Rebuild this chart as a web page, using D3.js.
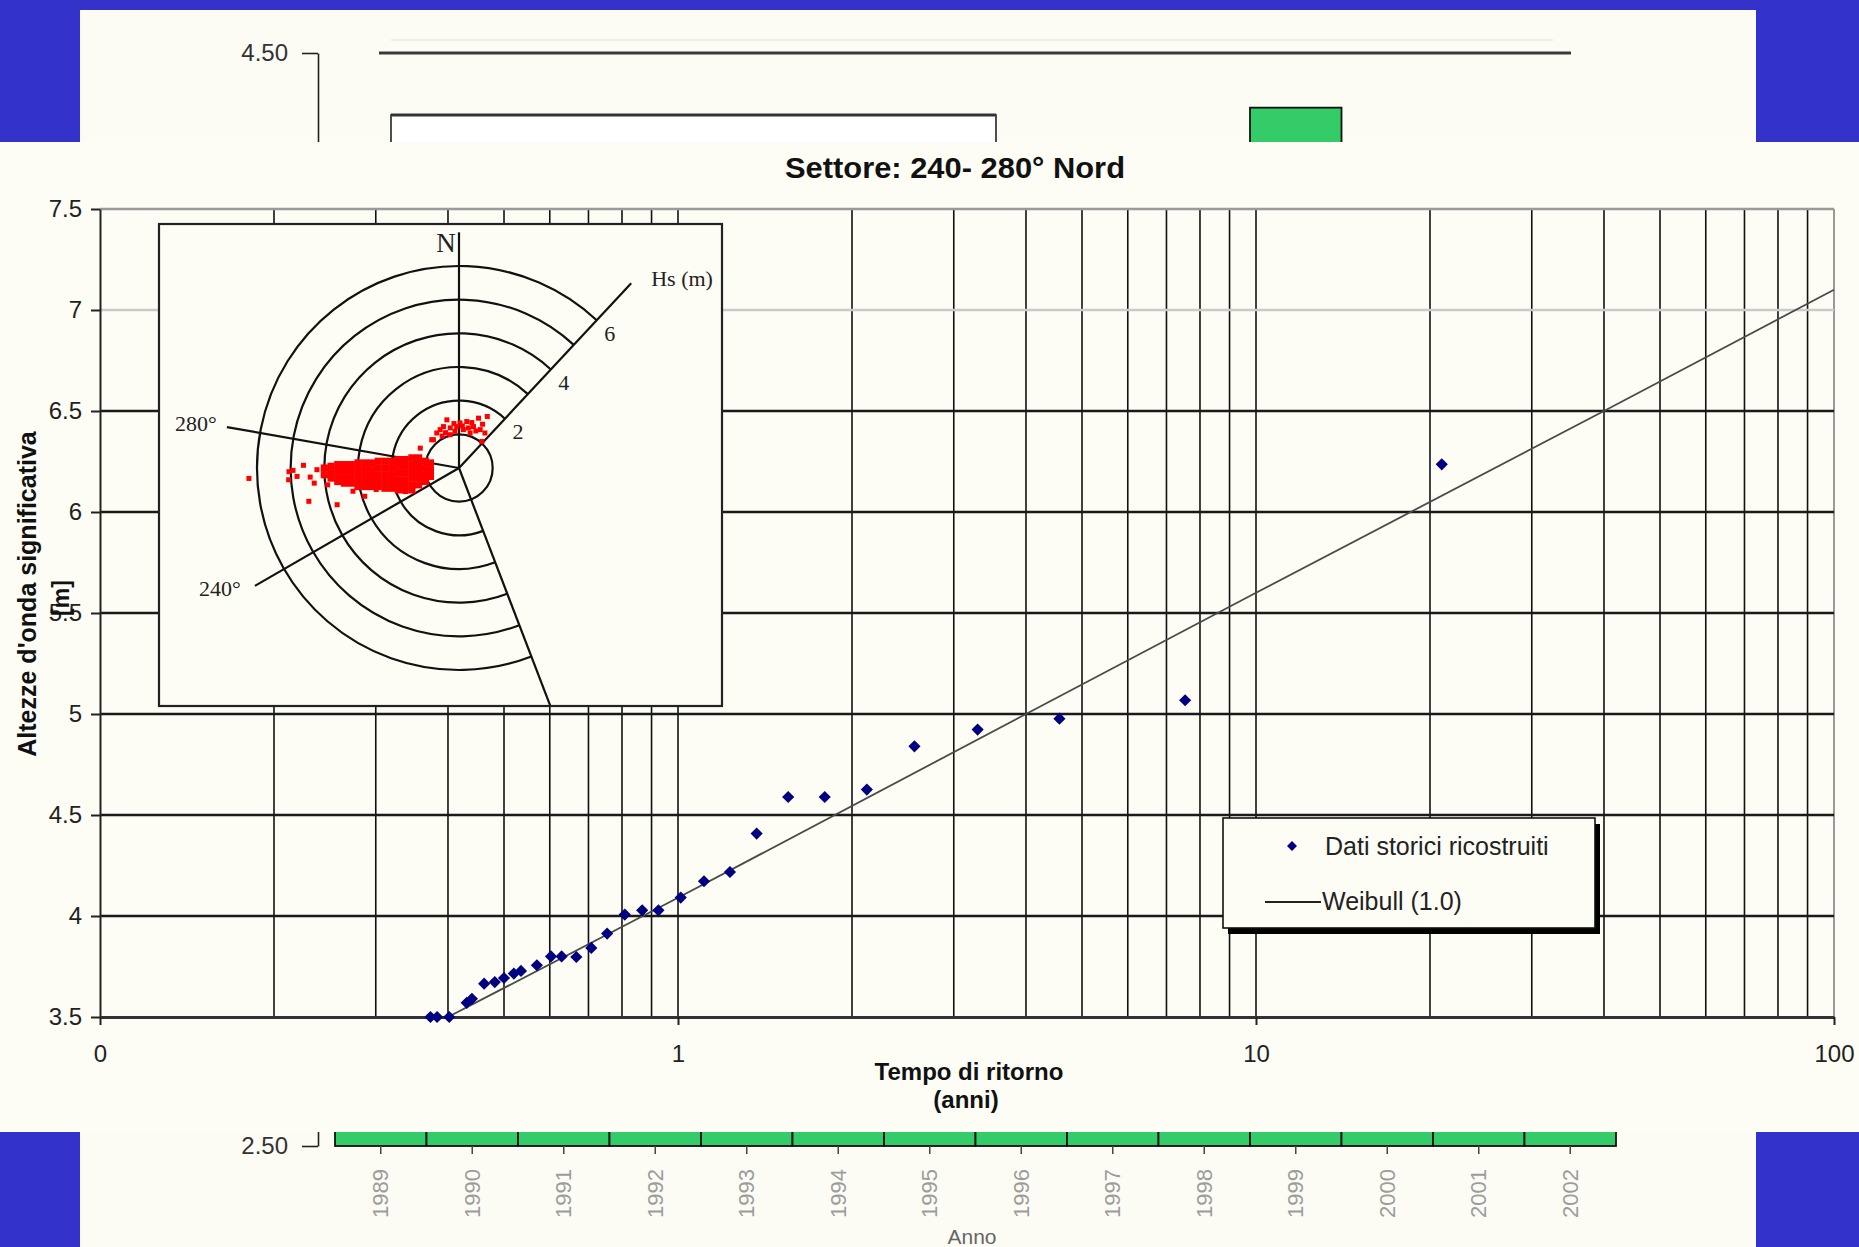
<!DOCTYPE html>
<html>
<head>
<meta charset="utf-8">
<title>Settore 240-280 Nord</title>
<script src="https://cdn.jsdelivr.net/npm/d3@7/dist/d3.min.js"></script>
<style>
  body { margin: 0; background: #3333cc; }
  svg { display: block; }
  text { font-family: "Liberation Sans", Arial, sans-serif; }
  .serif { font-family: "Liberation Serif", "Times New Roman", serif; }
</style>
</head>
<body>
<svg id="chart" width="1859" height="1247"></svg>
<script>
/* DATA */
// return period (years) and reconstructed significant wave height (m)
const returnPeriod = [0.373, 0.383, 0.402, 0.431, 0.440, 0.462, 0.482, 0.500, 0.520, 0.535, 0.570, 0.603, 0.629, 0.667, 0.708, 0.754, 0.809, 0.867, 0.925, 1.011, 1.109, 1.23, 1.368, 1.551, 1.794, 2.122, 2.565, 3.299, 4.57, 7.54, 20.96]
const waveHeight = [3.50, 3.50, 3.50, 3.57, 3.59, 3.665, 3.673, 3.693, 3.715, 3.728, 3.756, 3.80, 3.80, 3.797, 3.842, 3.913, 4.007, 4.028, 4.028, 4.091, 4.172, 4.218, 4.408, 4.589, 4.589, 4.626, 4.84, 4.923, 4.977, 5.068, 6.236]

// fitted Weibull (1.0)
const weibullT = [0.40, 1, 4, 10, 40, 100]
const weibullHs = [3.50, 4.09, 5.00, 5.60, 6.50, 7.10]

const yTicks = [3.5, 4, 4.5, 5, 5.5, 6, 6.5, 7, 7.5]
const yTickLabels = ["3.5", "4", "4.5", "5", "5.5", "6", "6.5", "7", "7.5"]
const xTicks = [0.1, 1, 10, 100]
const xTickLabels = ["0", "1", "10", "100"]
const xGrid = [0.2, 0.3, 0.4, 0.5, 0.6, 0.7, 0.8, 0.9, 1, 2, 3, 4, 5, 6, 7, 8, 9, 10, 20, 30, 40, 50, 60, 70, 80, 90]

const legendLabels = ["Dati storici ricostruiti", "Weibull (1.0)"]

// inset: wave rose
const ringHs = [1, 2, 3, 4, 5, 6]
const ringLabelHs = [2, 4, 6]
const sectorDeg = [240, 280]
// [bearing deg, length m]
const roseLines = [[0, 7.0], [43, 7.5], [159, 7.6], [240, 7.0], [280, 7.0]]
const arcFromDeg = 159
const arcToDeg = 403

// red records as [east, north] Hs components (m)
const redCore = [
    [-4.0, 0.0], [-4.0, -0.2],
    [-3.8, 0.05], [-3.8, -0.15], [-3.8, -0.3],
    [-3.6, 0.1], [-3.6, -0.1], [-3.6, -0.3], [-3.6, -0.4],
    [-3.4, 0.1], [-3.4, -0.1], [-3.4, -0.3], [-3.4, -0.45],
    [-3.2, 0.1], [-3.2, -0.1], [-3.2, -0.3], [-3.2, -0.45],
    [-3.0, 0.15], [-3.0, -0.05], [-3.0, -0.25], [-3.0, -0.45], [-3.0, -0.55],
    [-2.8, 0.15], [-2.8, -0.05], [-2.8, -0.25], [-2.8, -0.45], [-2.8, -0.55],
    [-2.6, 0.15], [-2.6, -0.05], [-2.6, -0.25], [-2.6, -0.45], [-2.6, -0.55],
    [-2.4, 0.2], [-2.4, 0.0], [-2.4, -0.2], [-2.4, -0.4], [-2.4, -0.55],
    [-2.2, 0.2], [-2.2, 0.0], [-2.2, -0.2], [-2.2, -0.4], [-2.2, -0.6],
    [-2.0, 0.2], [-2.0, 0.0], [-2.0, -0.2], [-2.0, -0.4], [-2.0, -0.6],
    [-1.8, 0.25], [-1.8, 0.05], [-1.8, -0.15], [-1.8, -0.35], [-1.8, -0.55], [-1.8, -0.65],
    [-1.6, 0.25], [-1.6, 0.05], [-1.6, -0.15], [-1.6, -0.35], [-1.6, -0.55], [-1.6, -0.65],
    [-1.4, 0.3], [-1.4, 0.1], [-1.4, -0.1], [-1.4, -0.3], [-1.4, -0.5], [-1.4, -0.65],
    [-1.2, 0.3], [-1.2, 0.1], [-1.2, -0.1], [-1.2, -0.3], [-1.2, -0.5],
    [-1.0, 0.2], [-1.0, 0.0], [-1.0, -0.2], [-1.0, -0.4],
    [-0.85, 0.15], [-0.85, -0.05], [-0.85, -0.25]
]
const redSparse = [
    [-6.24, -0.31], [-5.06, -0.35], [-5.05, -0.11], [-4.93, -0.07], [-4.81, -0.25],
    [-4.62, 0.08], [-4.42, -0.27], [-4.46, -0.99], [-4.22, -0.05], [-3.62, -1.09],
    [-3.15, -0.69], [-2.46, -0.64], [-2.8, -0.84], [-1.59, -0.7], [-1.15, 0.59],
    [-3.9, -0.5], [-4.3, -0.45]
]
const redNorth = [
    [-0.81, 0.84], [-0.76, 0.84], [-0.66, 1.04], [-0.56, 1.14], [-0.46, 1.23], [-0.36, 1.43],
    [-0.26, 1.19], [-0.26, 0.99], [-0.12, 1.09], [-0.07, 1.23], [0.03, 1.34], [0.13, 1.14],
    [0.23, 1.38], [0.28, 1.19], [0.33, 1.04], [0.43, 1.23], [0.58, 1.48], [0.63, 1.14],
    [0.77, 1.04], [0.84, 1.53], [0.68, 0.79], [0.5, 1.1], [-0.4, 1.05], [0.1, 1.25],
    [-0.5, 0.95], [0.38, 1.35], [0.7, 1.3], [-0.15, 1.32]
]

// slide strips showing behind the chart
const years = [1989, 1990, 1991, 1992, 1993, 1994, 1995, 1996, 1997, 1998, 1999, 2000, 2001, 2002]
const yearHs = [null, null, null, null, null, null, null, null, null, null, 4.40, null, null, null]
const stripTicks = [2.5, 4.5]

/* LAYOUT */
const W = 1859, H = 1247
const svg = d3.select("#chart")
const PANEL = "#fdfdf5"

svg.append("rect").attr("width", W).attr("height", H).attr("fill", "#3333cc")

// strips behind
svg.append("rect").attr("x", 80).attr("y", 10).attr("width", 1676).attr("height", 140).attr("fill", "#fcfcf4")
svg.append("rect").attr("x", 80).attr("y", 1130).attr("width", 1676).attr("height", 117).attr("fill", "#fcfcf4")

const sy = d3.scaleLinear().domain([2.5, 4.5]).range([1146, 53])
const band = d3.scaleBand().domain(years).range([335, 1616])

svg.append("line").attr("x1", 391).attr("x2", 1553).attr("y1", 40).attr("y2", 40)
    .attr("stroke", "#ededed").attr("stroke-width", 2)
svg.append("line").attr("x1", 379).attr("x2", 1571).attr("y1", sy(4.5)).attr("y2", sy(4.5))
    .attr("stroke", "#3a3a3a").attr("stroke-width", 3)

// green yearly bars
svg.append("g").selectAll("rect")
    .data(years)
    .join("rect")
    .attr("x", d => band(d))
    .attr("width", band.bandwidth())
    .attr("y", (d, i) => yearHs[i] == null ? 1128 : sy(yearHs[i]))
    .attr("height", (d, i) => sy(2.5) - (yearHs[i] == null ? 1128 : sy(yearHs[i])))
    .attr("fill", "#34cc68")
    .attr("stroke", "#111")
    .attr("stroke-width", 1.8)

// white legend box of the slide behind
svg.append("rect").attr("x", 391).attr("y", 115).attr("width", 605).attr("height", 60)
    .attr("fill", "#fff").attr("stroke", "#222").attr("stroke-width", 1.6)
svg.append("line").attr("x1", 391).attr("x2", 996).attr("y1", 115).attr("y2", 115)
    .attr("stroke", "#333").attr("stroke-width", 3)

svg.append("g")
    .attr("transform", "translate(318,0)")
    .call(d3.axisLeft(sy).tickValues(stripTicks).tickFormat(d3.format(".2f")).tickSize(16).tickPadding(14).tickSizeOuter(0))
    .attr("font-size", 24)
    .call(g => g.select(".domain").attr("stroke", "#222").attr("stroke-width", 1.6))
    .call(g => g.selectAll(".tick line").attr("stroke", "#222").attr("stroke-width", 1.6))
    .call(g => g.selectAll(".tick text").attr("fill", "#333"))

// year ticks and labels
const yearAxis = svg.append("g")
yearAxis.selectAll("line")
    .data(years)
    .join("line")
    .attr("x1", d => band(d) + band.bandwidth() / 2)
    .attr("x2", d => band(d) + band.bandwidth() / 2)
    .attr("y1", 1146).attr("y2", 1154)
    .attr("stroke", "#444").attr("stroke-width", 1.5)
yearAxis.selectAll("text")
    .data(years)
    .join("text")
    .attr("transform", d => `translate(${band(d) + band.bandwidth() / 2},1169) rotate(-90)`)
    .attr("text-anchor", "end")
    .attr("dy", "0.35em")
    .attr("font-size", 22)
    .attr("fill", "#9c9c9c")
    .text(d => d)
svg.append("text").attr("x", 972).attr("y", 1244).attr("text-anchor", "middle")
    .attr("font-size", 21).attr("fill", "#666").text("Anno")

/* MAIN PANEL */
svg.append("rect").attr("x", 0).attr("y", 142).attr("width", W).attr("height", 990).attr("fill", PANEL)

const x = d3.scaleLog().domain([0.1, 100]).range([100, 1834])
const y = d3.scaleLinear().domain([3.5, 7.5]).range([1017, 209])

const grid = svg.append("g")
grid.selectAll("line.v")
    .data(xGrid)
    .join("line")
    .attr("class", "v")
    .attr("x1", d => x(d)).attr("x2", d => x(d))
    .attr("y1", y(7.5)).attr("y2", y(3.5))
    .attr("stroke", "#111").attr("stroke-width", 1.6)
grid.append("line")
    .attr("x1", x(100)).attr("x2", x(100))
    .attr("y1", y(7.5)).attr("y2", y(3.5))
    .attr("stroke", "#9a9a9a").attr("stroke-width", 2)
grid.selectAll("line.h")
    .data(yTicks.filter(v => v > 3.5))
    .join("line")
    .attr("class", "h")
    .attr("x1", x(0.1)).attr("x2", x(100))
    .attr("y1", d => y(d)).attr("y2", d => y(d))
    .attr("stroke", d => d === 7.5 ? "#9a9a9a" : d === 7 ? "#cacaca" : "#1a1a1a")
    .attr("stroke-width", 2.4)

// axes
svg.append("g")
    .attr("transform", `translate(${x(0.1)},0)`)
    .call(d3.axisLeft(y).tickValues(yTicks).tickFormat((d, i) => yTickLabels[i]).tickSize(9).tickPadding(9).tickSizeOuter(0))
    .attr("font-size", 24)
    .call(g => g.select(".domain").attr("stroke", "#222").attr("stroke-width", 2))
    .call(g => g.selectAll(".tick line").attr("stroke", "#222").attr("stroke-width", 2))
    .call(g => g.selectAll(".tick text").attr("fill", "#222"))

svg.append("g")
    .attr("transform", `translate(0,${y(3.5)})`)
    .call(d3.axisBottom(x).tickValues(xTicks).tickFormat((d, i) => xTickLabels[i]).tickSize(8).tickPadding(20).tickSizeOuter(0))
    .attr("font-size", 24)
    .call(g => g.select(".domain").attr("stroke", "#333").attr("stroke-width", 3))
    .call(g => g.selectAll(".tick line").attr("stroke", "#222").attr("stroke-width", 2))
    .call(g => g.selectAll(".tick text").attr("fill", "#222"))

/* INSET WAVE ROSE */
const inset = svg.append("g")
inset.append("rect").attr("x", 159).attr("y", 224).attr("width", 563).attr("height", 482)
    .attr("fill", PANEL).attr("stroke", "#222").attr("stroke-width", 2.2)
svg.append("clipPath").attr("id", "insetClip")
    .append("rect").attr("x", 160).attr("y", 225).attr("width", 561).attr("height", 480)

const cx = 459, cy = 468
const rr = d3.scaleLinear().domain([0, 6]).range([0, 202])
const ex = d3.scaleLinear().domain([-6, 6]).range([cx - 202, cx + 202])
const ny = d3.scaleLinear().domain([-6, 6]).range([cy + 202, cy - 202])
function polar(deg, hs) {
    const a = deg * Math.PI / 180
    return [cx + rr(hs) * Math.sin(a), cy - rr(hs) * Math.cos(a)]
}

const rose = inset.append("g").attr("clip-path", "url(#insetClip)")
    .attr("fill", "none").attr("stroke", "#111").attr("stroke-width", 2.2)

rose.append("circle").attr("cx", cx).attr("cy", cy).attr("r", rr(ringHs[0]))
rose.selectAll("path.ring")
    .data(ringHs.slice(1))
    .join("path")
    .attr("class", "ring")
    .attr("d", h => {
        const p = d3.path()
        p.arc(cx, cy, rr(h), (arcFromDeg - 90) * Math.PI / 180, (arcToDeg - 90) * Math.PI / 180, false)
        return p.toString()
    })
rose.selectAll("path.ray")
    .data(roseLines)
    .join("path")
    .attr("class", "ray")
    .attr("d", d => d3.line()([[cx, cy], polar(d[0], d[1])]))

// red records
const dots = inset.append("g").attr("fill", "#ff0000")
dots.selectAll("rect.core")
    .data(redCore)
    .join("rect")
    .attr("class", "core")
    .attr("x", d => ex(d[0]) - 3.6).attr("y", d => ny(d[1]) - 3.6)
    .attr("width", 7.2).attr("height", 7.2)
dots.selectAll("rect.sparse")
    .data(redSparse.concat(redNorth))
    .join("rect")
    .attr("class", "sparse")
    .attr("x", d => ex(d[0]) - 2.5).attr("y", d => ny(d[1]) - 2.5)
    .attr("width", 5).attr("height", 5)

// rose labels
const roseText = inset.append("g").attr("fill", "#222")
roseText.append("text")
    .attr("class", "serif")
    .attr("x", polar(0, 7)[0] - 13).attr("y", polar(0, 7)[1] + 10)
    .attr("text-anchor", "middle").attr("dy", "0.35em")
    .attr("font-size", 27).text("N")
roseText.selectAll("text.lab")
    .data(ringLabelHs)
    .join("text")
    .attr("class", "serif lab")
    .attr("x", h => polar(43, h)[0] + 13).attr("y", h => polar(43, h)[1] + 13)
    .attr("text-anchor", "middle").attr("dy", "0.35em")
    .attr("font-size", 22).text(h => h)
roseText.append("text")
    .attr("class", "serif")
    .attr("x", polar(43, 7.5)[0] + 20).attr("y", polar(43, 7.5)[1] - 5)
    .attr("dy", "0.35em").attr("font-size", 22).text("Hs (m)")
roseText.selectAll("text.sec")
    .data(sectorDeg)
    .join("text")
    .attr("class", "serif sec")
    .attr("x", d => polar(d, 7)[0] + (d === 280 ? -10 : -14))
    .attr("y", d => polar(d, 7)[1] + (d === 280 ? -4 : 2.5))
    .attr("text-anchor", "end").attr("dy", "0.35em")
    .attr("font-size", 22).text(d => d + "°")

/* WEIBULL LINE AND POINTS */
svg.append("path")
    .datum(weibullT.map((t, i) => [t, weibullHs[i]]))
    .attr("fill", "none")
    .attr("stroke", "#4a4a4a")
    .attr("stroke-width", 1.8)
    .attr("d", d3.line().x(d => x(d[0])).y(d => y(d[1])))

const diamond = d3.symbol().type(d3.symbolSquare).size(74)
svg.append("g").attr("fill", "#000080")
    .selectAll("path")
    .data(returnPeriod.map((t, i) => [t, waveHeight[i]]))
    .join("path")
    .attr("transform", d => `translate(${x(d[0])},${y(d[1])}) rotate(45)`)
    .attr("d", diamond)

/* LEGEND */
const lg = svg.append("g").attr("transform", "translate(1223,818)")
lg.append("rect").attr("x", 5).attr("y", 6).attr("width", 372).attr("height", 110).attr("fill", "#000")
lg.append("rect").attr("width", 372).attr("height", 110).attr("fill", PANEL).attr("stroke", "#111").attr("stroke-width", 1.6)
lg.append("path").attr("transform", "translate(69,28) rotate(45)")
    .attr("d", d3.symbol().type(d3.symbolSquare).size(50)).attr("fill", "#000080")
lg.append("line").attr("x1", 42).attr("x2", 98).attr("y1", 84).attr("y2", 84)
    .attr("stroke", "#222").attr("stroke-width", 2)
lg.selectAll("text")
    .data(legendLabels)
    .join("text")
    .attr("x", (d, i) => i === 0 ? 102 : 99)
    .attr("y", (d, i) => i === 0 ? 28 : 83)
    .attr("dy", "0.35em")
    .attr("font-size", 25)
    .attr("fill", "#222")
    .text(d => d)

/* TITLES */
svg.append("text").attr("x", 955).attr("y", 178).attr("text-anchor", "middle")
    .attr("font-size", 30).attr("font-weight", "bold").attr("fill", "#111")
    .attr("textLength", 340).attr("lengthAdjust", "spacingAndGlyphs")
    .text("Settore: 240- 280° Nord")
svg.append("text").attr("x", 969).attr("y", 1080).attr("text-anchor", "middle")
    .attr("font-size", 24).attr("font-weight", "bold").attr("fill", "#111")
    .text("Tempo di ritorno")
svg.append("text").attr("x", 966).attr("y", 1108).attr("text-anchor", "middle")
    .attr("font-size", 24).attr("font-weight", "bold").attr("fill", "#111")
    .text("(anni)")
svg.append("text").attr("transform", "translate(36,594) rotate(-90)").attr("text-anchor", "middle")
    .attr("font-size", 25).attr("font-weight", "bold").attr("fill", "#111")
    .text("Altezze d'onda significativa")
svg.append("text").attr("transform", "translate(69,598) rotate(-90)").attr("text-anchor", "middle")
    .attr("font-size", 23).attr("font-weight", "bold").attr("fill", "#111")
    .text("[m]")
</script>
</body>
</html>
